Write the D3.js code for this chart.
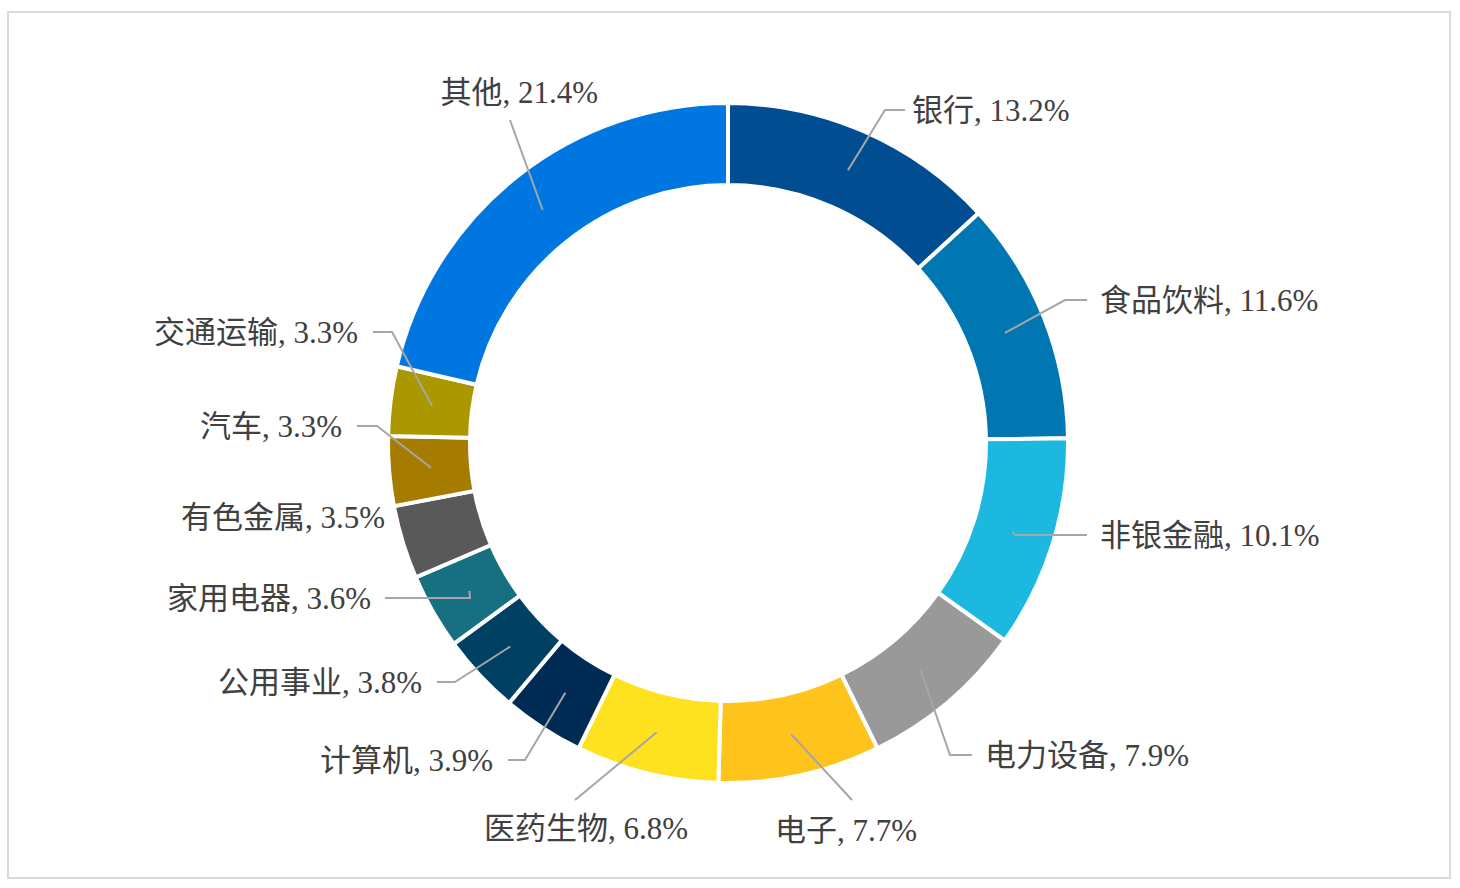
<!DOCTYPE html><html><head><meta charset="utf-8">
<script src="https://cdn.jsdelivr.net/npm/d3@7"></script>
<style>body{margin:0;background:#fff}</style></head><body>
<svg id="c" width="1460" height="888"></svg>
<script>
const categories=["银行","食品饮料","非银金融","电力设备","电子","医药生物","计算机","公用事业","家用电器","有色金属","汽车","交通运输","其他"];
const values=[13.2,11.6,10.1,7.9,7.7,6.8,3.9,3.8,3.6,3.5,3.3,3.3,21.4];
const colors=["#004e91","#0077b3","#1cb8e0","#999999","#ffc41c","#ffe21f","#002b55","#004163","#167082","#595959","#a67c00","#ab9700","#0077e0"];
// label layout: [x,y,anchor, elbowX1, elbowX2 | null]
const layout=[
 [912,110,"start",885,905],[1100,300,"start",1065,1087],[1100,535,"start",1015,1087],
 [985,755,"start",950,972],[775,830,"start",null,null],[688,828,"end",null,null],
 [493,760,"end",525,508],[422,682,"end",455,437],[371,598,"end",470,385],
 [385,517,"end",null,null],[342,426,"end",377,357],[358,332,"end",392,373],[598,92,"end",null,null]];
const lineEnds={4:[852,800],5:[575,800],12:[510,120],9:null};
const svg=d3.select("#c");
svg.append("rect").attr("x",8).attr("y",12).attr("width",1442).attr("height",866).attr("fill","none").attr("stroke","#d9d9d9").attr("stroke-width",2);
const g=svg.append("g").attr("transform","translate(728,443)");
const pie=d3.pie().sort(null).value(d=>d)(values);
const arc=d3.arc().innerRadius(258).outerRadius(340);
g.selectAll("path").data(pie).join("path").attr("d",arc).attr("fill",(d,i)=>colors[i]).attr("stroke","#fff").attr("stroke-width",4);
const mid=d3.arc().innerRadius(298).outerRadius(298);
pie.forEach((d,i)=>{
 const L=layout[i];const c=mid.centroid(d);const sx=728+c[0],sy=443+c[1];
 let pts=null;
 if(L[3]!==null) pts=[[sx,sy],[L[3],L[1]],[L[4],L[1]]];
 else if(lineEnds[i]) pts=[[sx,sy],lineEnds[i]];
 if(pts) svg.append("path").attr("d",d3.line()(pts)).attr("fill","none").attr("stroke","#a6a6a6").attr("stroke-width",2);
 svg.append("text").attr("x",L[0]).attr("y",L[1]).attr("text-anchor",L[2]).attr("dominant-baseline","central")
  .attr("font-family","'Liberation Serif','Noto Sans CJK SC'").attr("font-size",31).attr("fill","#404040")
  .text(categories[i]+", "+values[i].toFixed(1)+"%");
});
</script></body></html>
